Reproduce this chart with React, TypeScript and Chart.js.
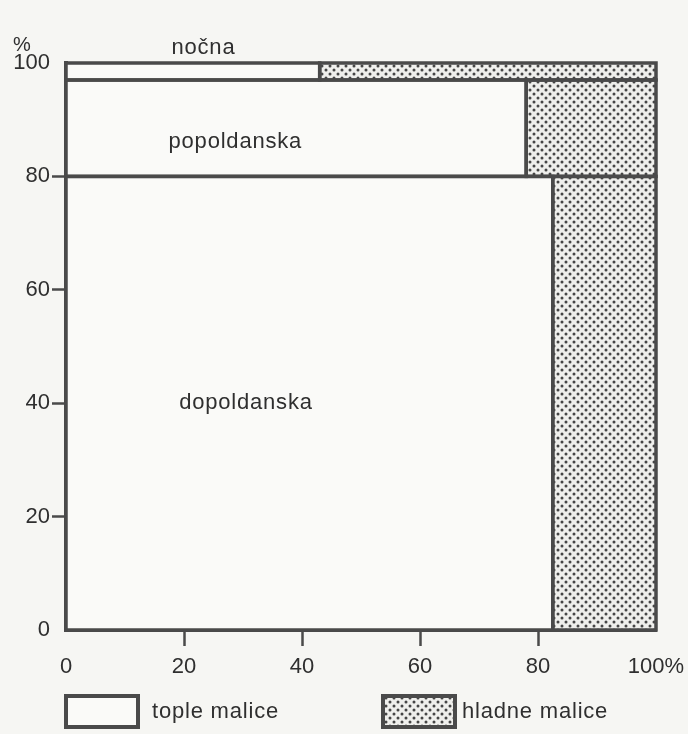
import { useEffect, useRef } from 'react';
import { Chart, registerables } from 'chart.js';

Chart.register(...registerables);

// ---- data ----
const shifts = ['dopoldanska', 'popoldanska', 'nočna'];
const shiftShare = [80, 17, 3]; // % of all meals (band heights)
const topleShare = [82.5, 78, 43]; // % warm meals within each shift
const hladneShare = [17.5, 22, 57]; // % cold meals within each shift
const xTickValues = [0, 20, 40, 60, 80, 100];
const yTickValues = [0, 20, 40, 60, 80, 100];
const seriesLabels = ['tople malice', 'hladne malice'];
const yUnit = '%';

// ---- style ----
const FONT = '"Liberation Sans", Arial, Helvetica, sans-serif';
const INK = '#4a4a4a';
const TEXT = '#2f2f2f';
const PAPER = '#f6f6f3';
const WARM_FILL = '#fafaf8';

function makeDots(ctx: CanvasRenderingContext2D): CanvasPattern | string {
  const c = document.createElement('canvas');
  c.width = 8;
  c.height = 8;
  const g = c.getContext('2d');
  if (!g) return '#bbb';
  g.fillStyle = '#efefec';
  g.fillRect(0, 0, 8, 8);
  g.fillStyle = '#454545';
  [[2, 2], [6, 6]].forEach(([px, py]) => {
    g.beginPath();
    g.arc(px, py, 1.5, 0, Math.PI * 2);
    g.fill();
  });
  return ctx.createPattern(c, 'repeat') || '#bbb';
}

const labelXValues = [30.5, 28.7, 23.3];
const labelYValues = [40, 86, 102.6];

const mosaicPlugin = {
  id: 'mosaic',
  beforeDraw(chart: any) {
    const { ctx, width, height } = chart;
    ctx.save();
    ctx.fillStyle = PAPER;
    ctx.fillRect(0, 0, width, height);
    ctx.restore();
  },
  beforeDatasetsDraw(chart: any) {
    const { ctx } = chart;
    const x = chart.scales.x;
    const y = chart.scales.y;
    const pattern = makeDots(ctx);
    const rects: { x0: number; x1: number; y0: number; y1: number; fill: any }[] = [];
    let base = 0;
    shifts.forEach((_, i) => {
      const top = base + shiftShare[i];
      const yb = y.getPixelForValue(base);
      const yt = y.getPixelForValue(top);
      const x0 = x.getPixelForValue(0);
      const xs = x.getPixelForValue(topleShare[i]);
      const x1 = x.getPixelForValue(topleShare[i] + hladneShare[i]);
      rects.push({ x0, x1: xs, y0: yt, y1: yb, fill: WARM_FILL });
      rects.push({ x0: xs, x1, y0: yt, y1: yb, fill: pattern });
      base = top;
    });
    ctx.save();
    rects.forEach((r) => {
      ctx.fillStyle = r.fill;
      ctx.fillRect(r.x0, r.y0, r.x1 - r.x0, r.y1 - r.y0);
    });
    ctx.strokeStyle = INK;
    ctx.lineWidth = 3.5;
    rects.forEach((r) => {
      ctx.strokeRect(r.x0, r.y0, r.x1 - r.x0, r.y1 - r.y0);
    });
    // shift labels
    ctx.fillStyle = TEXT;
    ctx.font = `22px ${FONT}`;
    (ctx as any).letterSpacing = '0.8px';
    ctx.textAlign = 'center';
    ctx.textBaseline = 'middle';
    shifts.forEach((name, i) => {
      ctx.fillText(name, x.getPixelForValue(labelXValues[i]), y.getPixelForValue(labelYValues[i]));
    });
    ctx.restore();
  },
  afterDraw(chart: any) {
    const { ctx } = chart;
    const pattern = makeDots(ctx);
    ctx.save();
    // unit label
    ctx.fillStyle = TEXT;
    ctx.font = `20px ${FONT}`;
    ctx.textAlign = 'center';
    ctx.textBaseline = 'middle';
    ctx.fillText(yUnit, 22, 45);
    // legend
    const items = chart.data.datasets.map((d: any) => d.label);
    const boxes = [
      { bx: 66, tx: 152, fill: WARM_FILL },
      { bx: 383, tx: 462, fill: pattern },
    ];
    ctx.font = `22px ${FONT}`;
    (ctx as any).letterSpacing = '0.8px';
    ctx.textAlign = 'left';
    items.forEach((label: string, i: number) => {
      const b = boxes[i];
      ctx.fillStyle = b.fill;
      ctx.fillRect(b.bx, 696, 72, 31);
      ctx.strokeStyle = INK;
      ctx.lineWidth = 4;
      ctx.strokeRect(b.bx, 696, 72, 31);
      ctx.fillStyle = TEXT;
      ctx.fillText(label, b.tx, 712);
    });
    ctx.restore();
  },
};

export default function App() {
  const ref = useRef<HTMLCanvasElement | null>(null);
  useEffect(() => {
    if (!ref.current) return;
    const tickColor = (c: any) =>
      c.tick && (c.tick.value === 0 || c.tick.value === 100) ? 'rgba(0,0,0,0)' : INK;
    const chart = new Chart(ref.current, {
      type: 'scatter',
      data: {
        datasets: seriesLabels.map((label) => ({ label, data: [] as any[] })),
      },
      plugins: [mosaicPlugin],
      options: {
        animation: false,
        responsive: true,
        maintainAspectRatio: false,
        layout: { padding: { top: 63, right: 32, left: 0, bottom: 0 } },
        plugins: { legend: { display: false }, tooltip: { enabled: false } },
        scales: {
          x: {
            type: 'linear',
            min: 0,
            max: 100,
            afterBuildTicks: (s: any) => {
              s.ticks = xTickValues.map((v) => ({ value: v }));
            },
            afterFit: (s: any) => {
              s.height = 104;
              s.paddingLeft = 0;
              s.paddingRight = 0;
            },
            ticks: {
              callback: (v: any) => (v === 100 ? '100%' : String(v)),
              font: { family: FONT, size: 22 },
              color: TEXT,
              padding: 8,
              maxRotation: 0,
              autoSkip: false,
            },
            grid: {
              drawOnChartArea: false,
              tickLength: 16,
              tickWidth: 2.5,
              tickColor,
            },
            border: { display: true, color: INK, width: 4 },
          },
          y: {
            type: 'linear',
            min: 0,
            max: 100,
            afterBuildTicks: (s: any) => {
              s.ticks = yTickValues.map((v) => ({ value: v }));
            },
            afterFit: (s: any) => {
              s.width = 66;
              s.paddingTop = 0;
              s.paddingBottom = 0;
            },
            ticks: {
              callback: (v: any) => String(v),
              font: { family: FONT, size: 22 },
              color: TEXT,
              padding: 2,
              autoSkip: false,
            },
            grid: {
              drawOnChartArea: false,
              tickLength: 14,
              tickWidth: 2.5,
              tickColor,
            },
            border: { display: true, color: INK, width: 4 },
          },
        },
      } as any,
    });
    return () => chart.destroy();
  }, []);
  return (
    <div style={{ position: 'absolute', left: 0, top: 0, width: 688, height: 734 }}>
      <canvas ref={ref} />
    </div>
  );
}
